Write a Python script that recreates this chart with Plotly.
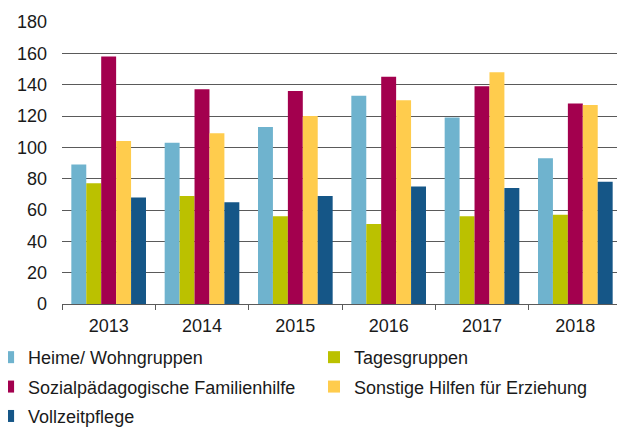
import plotly.graph_objects as go

years = ["2013", "2014", "2015", "2016", "2017", "2018"]
heime = [89, 103, 113, 133, 119, 93]
tages = [77, 69, 56, 51, 56, 57]
sozial = [158, 137, 136, 145, 139, 128]
sonstige = [104, 109, 120, 130, 148, 127]
vollzeit = [68, 65, 69, 75, 74, 78]

series = [
    ("Heime/ Wohngruppen", heime, "#6FB3CE", "legend"),
    ("Tagesgruppen", tages, "#BBC100", "legend2"),
    ("Sozialpädagogische Familienhilfe", sozial, "#A3004E", "legend"),
    ("Sonstige Hilfen für Erziehung", sonstige, "#FFCC4D", "legend2"),
    ("Vollzeitpflege", vollzeit, "#155687", "legend"),
]

fig = go.Figure()
for i, (name, vals, col, leg) in enumerate(series):
    fig.add_trace(go.Bar(x=years, y=vals, name=name, legend=leg, legendgroup=f"g{i}",
                         marker=dict(color=col, line=dict(width=0))))

legfont = dict(size=18, color="#1a1a1a", family="Liberation Sans, Arial, sans-serif")
fig.update_layout(
    width=617, height=420,
    margin=dict(l=54, r=3, t=14, b=124, autoexpand=False),
    paper_bgcolor="white", plot_bgcolor="white",
    barmode="group", bargap=0.2, bargroupgap=0,
    font=dict(family="Liberation Sans, Arial, sans-serif", size=18, color="#1a1a1a"),
    legend=dict(orientation="v", x=-0.132, y=-0.124, xanchor="left", yanchor="top",
                font=legfont, tracegroupgap=3, bgcolor="rgba(0,0,0,0)"),
    legend2=dict(orientation="v", x=0.45, y=-0.124, xanchor="left", yanchor="top",
                 font=legfont, tracegroupgap=3, bgcolor="rgba(0,0,0,0)"),
    showlegend=True,
)
fig.update_yaxes(range=[0, 180], dtick=20, showgrid=True, gridcolor="#5a5a5a", gridwidth=1,
                 showline=False, ticks="", zeroline=False, ticklabelstandoff=14)
fig.update_xaxes(showline=True, linecolor="#5a5a5a", linewidth=1, ticks="outside",
                 tickson="boundaries", ticklen=5, tickcolor="#5a5a5a", ticklabelstandoff=5)

fig.write_html("out.html")
